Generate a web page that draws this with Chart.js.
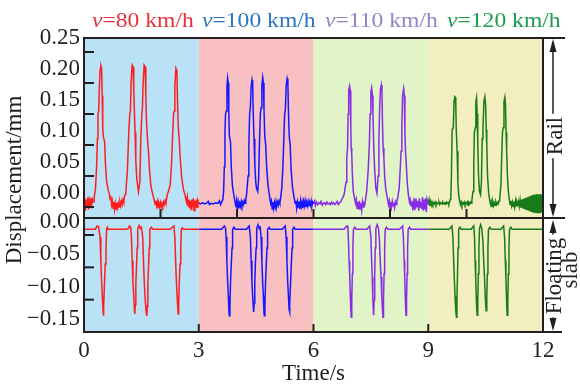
<!DOCTYPE html>
<html>
<head>
<meta charset="utf-8">
<script src="https://cdn.jsdelivr.net/npm/chart.js@4"></script>
<style>
html, body { margin: 0; padding: 0; background: #fff; }
</style>
</head>
<body>
<canvas id="myChart" width="580" height="385"></canvas>
<script>
// speeds of the four runs (one band each)
const speeds = [80, 100, 110, 120];
const bandEdges = [0, 3, 6, 9, 12];

// tick labels
const xTickValues = [0, 3, 6, 9, 12];
const railTickValues = [0, 0.05, 0.10, 0.15, 0.20, 0.25];
const slabTickValues = [0, -0.05, -0.10, -0.15];
const railInnerX = [2, 4, 6, 8, 10];
const slabInnerX = [3, 6, 9];

// rail displacement, [time s, mm]
const rail80 = [
  [0,.004],[.02,.014],[.04,-.006],[.06,.012],[.08,0],[.10,.016],[.12,-.004],[.14,.010],[.16,.002],[.18,.015],[.20,.004],[.22,.012],[.24,.008],
  [.26,.012],[.30,.030],[.33,.065],[.35,.110],[.365,.150],[.385,.155],[.40,.190],[.42,.222],[.44,.228],[.46,.224],[.475,.180],[.49,.125],[.51,.112],[.54,.105],[.56,.070],[.59,.042],[.63,.028],[.66,.022],
  [.68,.012],[.70,.018],[.72,.004],[.74,.010],[.76,-.002],[.78,.008],[.80,-.004],[.82,.006],[.84,-.003],[.86,.007],[.88,-.001],[.90,.006],[.92,0],[.94,.008],[.96,.002],[.98,.009],[1.00,.004],[1.02,.012],[1.04,.008],[1.06,.018],
  [1.09,.020],[1.135,.060],[1.17,.120],[1.197,.150],[1.214,.155],[1.231,.200],[1.258,.229],[1.284,.226],[1.301,.190],[1.319,.150],[1.336,.120],[1.354,.075],[1.38,.045],[1.424,.025],[1.459,.040],[1.485,.110],[1.511,.150],[1.528,.160],[1.546,.200],[1.572,.229],[1.598,.226],[1.616,.180],[1.633,.140],[1.659,.110],[1.686,.090],[1.712,.060],[1.747,.035],[1.79,.022],[1.834,.012],
  [1.86,.004],[1.88,.010],[1.90,.002],[1.92,.008],[1.94,-.001],[1.96,.006],[1.98,.001],[2.00,.007],[2.02,0],[2.04,.006],[2.06,.002],[2.08,.008],[2.10,.004],[2.12,.010],[2.14,.006],[2.16,.014],[2.18,.020],
  [2.22,.028],[2.253,.035],[2.288,.070],[2.314,.110],[2.341,.150],[2.358,.155],[2.376,.195],[2.402,.224],[2.428,.220],[2.445,.170],[2.463,.130],[2.489,.110],[2.515,.080],[2.55,.050],[2.594,.030],[2.646,.018],
  [2.68,.008],[2.70,.016],[2.72,.002],[2.74,.012],[2.76,-.002],[2.78,.010],[2.80,-.004],[2.82,.012],[2.84,0],[2.86,.014],[2.88,-.006],[2.90,.010],[2.92,-.002],[2.94,.012],[2.96,0],[2.98,.010],[3.00,.006]
];
const rail100 = [
  [3.00,.006],[3.05,.005],[3.10,.007],[3.15,.005],[3.20,.006],[3.25,.009],[3.28,.004],[3.32,.006],[3.38,.005],[3.44,.007],[3.50,.006],[3.54,.010],[3.57,.004],[3.60,.008],[3.63,.012],
  [3.65,.025],[3.668,.065],[3.685,.120],[3.70,.150],[3.72,.155],[3.738,.195],[3.755,.208],[3.772,.200],[3.785,.155],[3.80,.115],[3.83,.105],[3.85,.065],[3.88,.035],[3.92,.018],[3.95,.008],
  [3.97,0],[3.99,.010],[4.01,-.004],[4.03,.008],[4.05,-.002],[4.07,.006],[4.09,.001],[4.11,.009],[4.13,.003],[4.15,.008],[4.17,.004],[4.19,.010],[4.21,.006],[4.23,.012],
  [4.25,.020],[4.29,.050],[4.31,.100],[4.33,.150],[4.35,.160],[4.37,.195],[4.393,.205],[4.41,.198],[4.425,.150],[4.445,.110],[4.465,.070],[4.49,.040],[4.51,.030],[4.541,.025],[4.565,.045],[4.59,.110],[4.61,.150],[4.63,.160],[4.65,.195],[4.672,.209],[4.69,.200],[4.705,.160],[4.725,.115],[4.75,.100],[4.775,.065],[4.81,.035],[4.85,.018],[4.88,.006],
  [4.90,.010],[4.92,-.003],[4.94,.008],[4.96,-.002],[4.98,.007],[5.00,0],[5.02,.009],[5.04,.002],[5.06,.008],[5.08,.003],[5.10,.010],[5.12,.006],[5.14,.014],
  [5.17,.030],[5.20,.065],[5.225,.110],[5.245,.150],[5.265,.158],[5.285,.195],[5.31,.207],[5.33,.200],[5.345,.155],[5.365,.115],[5.39,.100],[5.415,.060],[5.45,.032],[5.49,.016],[5.52,.006],
  [5.54,.010],[5.56,-.002],[5.58,.008],[5.60,0],[5.62,.009],[5.64,-.003],[5.66,.010],[5.68,.001],[5.70,.008],[5.72,-.002],[5.74,.009],[5.76,.002],[5.78,.010],[5.80,0],[5.82,.008],[5.84,.002],[5.86,.009],[5.88,.001],[5.90,.008],[5.92,.003],[5.94,.010],[5.96,.002],[5.98,.008],[6.00,.005]
];
const rail110 = [
  [6.00,.006],[6.03,.010],[6.05,.002],[6.08,.008],[6.11,.004],[6.14,.007],[6.17,.005],[6.20,.009],[6.23,.003],[6.26,.006],[6.29,.007],[6.32,.004],[6.35,.008],[6.38,.005],[6.41,.006],[6.44,.004],[6.47,.008],[6.50,.005],[6.53,.007],[6.56,.004],[6.59,.006],[6.62,.009],[6.65,.004],[6.68,.007],[6.71,.008],[6.74,.012],
  [6.80,.020],[6.85,.040],[6.87,.080],[6.89,.095],[6.905,.150],[6.92,.188],[6.943,.195],[6.96,.188],[6.975,.130],[6.985,.095],[7.00,.085],[7.015,.055],[7.04,.025],[7.07,.015],[7.10,.006],
  [7.12,.012],[7.14,-.002],[7.16,.008],[7.18,-.004],[7.20,.010],[7.22,-.003],[7.24,.006],[7.26,-.005],[7.28,.008],[7.30,0],[7.32,.006],[7.34,.004],[7.36,.012],
  [7.39,.025],[7.43,.060],[7.46,.100],[7.48,.150],[7.50,.185],[7.52,.192],[7.54,.180],[7.555,.150],[7.575,.095],[7.60,.060],[7.63,.030],[7.659,.022],[7.69,.050],[7.71,.110],[7.73,.160],[7.75,.190],[7.773,.197],[7.79,.185],[7.805,.130],[7.82,.095],[7.84,.080],[7.86,.050],[7.89,.028],[7.93,.015],[7.96,.004],
  [7.98,.010],[8.00,-.002],[8.02,.008],[8.04,0],[8.06,.009],[8.08,.002],[8.10,.007],[8.12,-.001],[8.14,.008],[8.16,.004],[8.18,.010],[8.20,.014],
  [8.24,.030],[8.27,.065],[8.29,.090],[8.31,.130],[8.33,.180],[8.358,.191],[8.375,.180],[8.39,.120],[8.405,.090],[8.425,.070],[8.45,.040],[8.48,.020],[8.51,.008],
  [8.53,.012],[8.55,.002],[8.57,.009],[8.59,0],[8.61,.008],[8.63,-.004],[8.65,.014],[8.67,-.002],[8.69,.008],[8.71,.001],[8.73,.010],[8.75,-.006],[8.77,.014],[8.79,0],[8.81,.008],[8.83,-.003],[8.85,.016],[8.87,-.006],[8.89,.012],[8.91,-.004],[8.93,.014],[8.95,-.008],[8.97,.012],[9.00,.004]
];
const rail120 = [
  [9.00,.006],[9.02,.012],[9.04,.002],[9.06,.009],[9.08,.003],[9.10,.008],[9.12,.004],[9.14,.007],[9.16,.005],[9.18,.008],[9.20,.004],[9.22,.007],[9.24,.005],[9.26,.006],[9.28,.008],[9.30,.004],[9.32,.007],[9.34,.006],[9.36,.005],[9.38,.008],[9.40,.006],[9.42,.005],[9.44,.007],[9.46,.006],[9.48,.008],[9.50,.006],[9.52,.007],[9.54,.005],[9.56,.009],[9.58,.013],
  [9.59,.015],[9.605,.050],[9.625,.125],[9.655,.128],[9.675,.172],[9.69,.178],[9.705,.177],[9.72,.165],[9.732,.125],[9.755,.090],[9.775,.040],[9.795,.020],[9.82,.010],
  [9.84,.004],[9.86,.008],[9.88,.003],[9.90,.007],[9.92,.005],[9.94,.008],[9.96,.004],[9.98,.007],[10.00,.005],[10.02,.008],[10.04,.003],[10.06,.007],[10.08,.005],[10.10,.008],[10.12,.006],[10.14,.011],
  [10.17,.025],[10.19,.070],[10.205,.120],[10.23,.128],[10.245,.170],[10.262,.176],[10.278,.150],[10.295,.100],[10.315,.050],[10.34,.025],[10.367,.020],[10.39,.040],[10.41,.110],[10.43,.125],[10.455,.170],[10.48,.178],[10.50,.165],[10.515,.125],[10.53,.100],[10.55,.050],[10.58,.022],[10.61,.010],
  [10.63,.004],[10.65,.009],[10.67,.001],[10.69,.008],[10.71,.002],[10.73,.007],[10.75,.003],[10.77,.008],[10.79,.004],[10.81,.007],[10.83,.005],[10.85,.010],[10.87,.015],
  [10.90,.035],[10.92,.080],[10.94,.120],[10.96,.128],[10.98,.170],[11.004,.177],[11.02,.165],[11.035,.120],[11.05,.090],[11.07,.050],[11.095,.025],[11.12,.012],
  [11.14,.004],[11.16,.010],[11.18,.002],[11.20,.008],[11.22,.001],[11.24,.009],[11.26,0],[11.28,.010],[11.30,.002],[11.32,.008],[11.34,.004],[11.36,.009],[11.38,.001],[11.40,.011],[11.42,-.001],[11.44,.012],[11.46,-.002],[11.48,.013],[11.50,-.003],[11.52,.014],[11.54,-.004],[11.56,.015],[11.58,-.005],[11.60,.016],[11.62,-.006],[11.64,.017],[11.66,-.007],[11.68,.018],[11.70,-.008],[11.72,.019],[11.74,-.008],[11.76,.020],[11.78,-.009],[11.80,.020],[11.82,-.009],[11.84,.021],[11.86,-.010],[11.88,.020],[11.90,-.009],[11.92,.021],[11.94,-.010],[11.96,.020],[11.98,-.008],[12.00,.010]
];

// floating slab displacement, [time s, mm]
const slab80 = [
  [0,.009],[.30,.009],[.34,.014],[.38,.013],[.42,-.003],[.44,-.040],[.46,-.072],[.48,-.095],[.50,-.120],[.507,-.125],[.52,-.110],[.535,-.075],[.555,-.045],[.575,-.020],[.59,.009],[.61,.012],[.63,.009],
  [1.10,.009],[1.16,.010],[1.19,.014],[1.22,.012],[1.24,-.003],[1.26,-.040],[1.28,-.072],[1.30,-.095],[1.32,-.118],[1.328,-.122],[1.34,-.108],[1.355,-.075],[1.375,-.045],[1.39,-.020],[1.405,.010],[1.44,.015],[1.47,.010],[1.50,.012],
  [1.535,-.003],[1.555,-.040],[1.575,-.072],[1.595,-.095],[1.625,-.120],[1.642,-.125],[1.655,-.110],[1.67,-.075],[1.69,-.045],[1.705,-.020],[1.72,.009],[1.76,.012],[1.80,.009],
  [2.25,.009],[2.31,.012],[2.35,.014],[2.375,-.003],[2.395,-.040],[2.415,-.072],[2.435,-.095],[2.455,-.118],[2.463,-.122],[2.475,-.108],[2.49,-.075],[2.51,-.045],[2.53,-.020],[2.545,.009],[2.57,.011],[2.60,.009],[3.00,.009]
];
const slab100 = [
  [3.00,.009],[3.60,.009],[3.64,.012],[3.67,.014],[3.70,.011],[3.715,-.003],[3.735,-.040],[3.755,-.072],[3.775,-.095],[3.79,-.120],[3.80,-.125],[3.815,-.110],[3.83,-.075],[3.85,-.045],[3.87,-.020],[3.885,.009],[3.92,.012],[3.95,.009],
  [4.25,.009],[4.29,.012],[4.32,.014],[4.35,-.003],[4.37,-.040],[4.39,-.072],[4.41,-.095],[4.43,-.115],[4.437,-.119],[4.45,-.105],[4.465,-.075],[4.48,-.045],[4.50,-.020],[4.515,.010],[4.55,.016],[4.58,.010],
  [4.605,.012],[4.63,-.003],[4.65,-.040],[4.67,-.072],[4.69,-.095],[4.705,-.120],[4.716,-.125],[4.73,-.110],[4.745,-.075],[4.765,-.045],[4.785,-.020],[4.80,.009],[4.84,.012],[4.87,.009],
  [5.18,.009],[5.23,.012],[5.26,.014],[5.285,-.003],[5.305,-.040],[5.325,-.072],[5.345,-.095],[5.362,-.115],[5.371,-.119],[5.385,-.105],[5.40,-.075],[5.42,-.045],[5.44,-.020],[5.455,.009],[5.49,.012],[5.52,.009],[6.00,.009]
];
const slab110 = [
  [6.00,.009],[6.80,.009],[6.85,.013],[6.88,.014],[6.90,.010],[6.915,-.010],[6.93,-.040],[6.945,-.060],[6.96,-.090],[6.975,-.115],[6.987,-.127],[7.00,-.100],[7.015,-.060],[7.03,-.020],[7.045,.009],[7.08,.012],[7.11,.009],
  [7.40,.009],[7.44,.012],[7.47,.014],[7.50,-.003],[7.52,-.040],[7.535,-.065],[7.55,-.095],[7.565,-.118],[7.572,-.124],[7.585,-.100],[7.60,-.060],[7.615,-.020],[7.63,.010],[7.665,.016],[7.70,.010],
  [7.725,-.010],[7.745,-.040],[7.765,-.065],[7.785,-.095],[7.805,-.118],[7.817,-.127],[7.83,-.100],[7.845,-.060],[7.86,-.020],[7.875,.009],[7.91,.012],[7.94,.009],
  [8.25,.009],[8.30,.012],[8.33,.014],[8.35,-.003],[8.37,-.040],[8.385,-.065],[8.40,-.095],[8.412,-.118],[8.419,-.124],[8.432,-.100],[8.447,-.060],[8.46,-.020],[8.475,.009],[8.51,.012],[8.54,.009],[9.00,.009]
];
const slab120 = [
  [9.00,.009],[9.55,.009],[9.59,.012],[9.62,.014],[9.645,-.003],[9.665,-.040],[9.68,-.065],[9.70,-.095],[9.72,-.118],[9.738,-.127],[9.75,-.100],[9.765,-.060],[9.78,-.020],[9.795,.009],[9.83,.012],[9.86,.009],
  [10.12,.009],[10.16,.012],[10.19,.014],[10.21,-.003],[10.225,-.040],[10.24,-.065],[10.255,-.095],[10.27,-.118],[10.28,-.124],[10.295,-.100],[10.31,-.060],[10.325,-.020],[10.34,.010],[10.37,.016],[10.40,.010],
  [10.43,-.010],[10.45,-.040],[10.47,-.065],[10.49,-.095],[10.505,-.110],[10.515,-.117],[10.53,-.095],[10.545,-.060],[10.56,-.020],[10.575,.009],[10.61,.012],[10.64,.009],
  [10.90,.009],[10.94,.012],[10.97,.014],[10.995,-.003],[11.015,-.040],[11.03,-.065],[11.045,-.095],[11.058,-.118],[11.065,-.124],[11.08,-.100],[11.095,-.060],[11.11,-.020],[11.125,.009],[11.16,.012],[11.19,.009],[12.00,.009]
];

const railSeries = [rail80, rail100, rail110, rail120];
const slabSeries = [slab80, slab100, slab110, slab120];

// styles
const lineColors = ['#ff1e1e', '#1616ff', '#8a2be6', '#177c17'];
const titleColors = ['#e8323a', '#2b76c2', '#8c87c6', '#1c9c4c'];
const bandColors = ['#b9e2f7', '#f8c0c1', '#e1f4c7', '#f3eec0'];
const ink = '#231f20';
const serif = "'Liberation Serif', 'Times New Roman', serif";
const axisFont = { family: serif, size: 23, lineHeight: 1 };
const titleLeft = [92, 202, 325, 447];

let datasets = [];
railSeries.forEach(function(s, i) {
  datasets.push({
    data: s.map(p => ({ x: p[0], y: p[1] })),
    yAxisID: 'y', borderColor: lineColors[i], borderWidth: 1.5,
    pointRadius: 0, tension: 0, fill: false
  });
});
slabSeries.forEach(function(s, i) {
  datasets.push({
    data: s.map(p => ({ x: p[0], y: p[1] })),
    yAxisID: 'y2', borderColor: lineColors[i], borderWidth: 1.5,
    pointRadius: 0, tension: 0, fill: false
  });
});

function line(ctx, x0, y0, x1, y1) {
  ctx.beginPath(); ctx.moveTo(x0, y0); ctx.lineTo(x1, y1); ctx.stroke();
}
function arrow(ctx, x, tip, dir) {
  ctx.beginPath();
  ctx.moveTo(x, tip);
  ctx.lineTo(x - 3.5, tip + dir * 13);
  ctx.lineTo(x + 3.5, tip + dir * 13);
  ctx.closePath(); ctx.fill();
}
function sideLabel(ctx, text, x, y) {
  ctx.save();
  ctx.translate(x, y); ctx.rotate(-Math.PI / 2);
  const w = ctx.measureText(text).width;
  ctx.fillStyle = '#fff';
  ctx.fillRect(-w / 2 - 3, -9, w + 6, 18);
  ctx.fillStyle = ink;
  ctx.fillText(text, 0, 0);
  ctx.restore();
}

const decor = {
  id: 'decor',
  beforeDatasetsDraw(chart) {
    const { ctx, chartArea: a } = chart;
    const x = chart.scales.x;
    ctx.save();
    for (let i = 0; i < bandColors.length; i++) {
      const x0 = x.getPixelForValue(bandEdges[i]);
      const x1 = x.getPixelForValue(bandEdges[i + 1]);
      ctx.fillStyle = bandColors[i];
      ctx.fillRect(x0, a.top, x1 - x0, a.bottom - a.top);
    }
    ctx.restore();
  },
  afterDraw(chart) {
    const { ctx, chartArea: a } = chart;
    const x = chart.scales.x, yR = chart.scales.y, yS = chart.scales.y2;
    const mid = yR.bottom;
    ctx.save();
    ctx.strokeStyle = ink; ctx.fillStyle = ink; ctx.lineWidth = 2;
    // frame + divider
    ctx.strokeRect(a.left, a.top, a.right - a.left, a.bottom - a.top);
    line(ctx, a.left, mid, 565, mid);
    line(ctx, a.right, a.top, 565, a.top);
    line(ctx, a.right, a.bottom, 562, a.bottom);
    // inward ticks
    railTickValues.forEach(v => { const p = yR.getPixelForValue(v); line(ctx, a.left, p, a.left + 10, p); });
    slabTickValues.forEach(v => { const p = yS.getPixelForValue(v); line(ctx, a.left, p, a.left + 10, p); });
    railInnerX.forEach(v => { const p = x.getPixelForValue(v); line(ctx, p, mid, p, mid - 9); });
    slabInnerX.forEach(v => { const p = x.getPixelForValue(v); line(ctx, p, a.bottom, p, a.bottom - 8); });
    // right side brackets
    const bx = 553;
    ctx.lineWidth = 1.5;
    line(ctx, bx, a.top + 10, bx, mid - 10);
    arrow(ctx, bx, a.top + 1, 1);
    arrow(ctx, bx, mid - 1, -1);
    line(ctx, bx, mid + 10, bx, a.bottom - 10);
    arrow(ctx, bx, mid + 2, 1);
    arrow(ctx, bx, a.bottom - 1, -1);
    ctx.font = '23px ' + serif;
    ctx.textAlign = 'center'; ctx.textBaseline = 'middle';
    sideLabel(ctx, 'Rail', 556, 136);
    sideLabel(ctx, 'Floating', 555, 276);
    ctx.save();
    ctx.translate(571, 270); ctx.rotate(-Math.PI / 2);
    ctx.fillText('slab', 0, 0);
    ctx.restore();
    // y title
    ctx.save();
    ctx.translate(15, 180); ctx.rotate(-Math.PI / 2);
    ctx.fillText('Displacement/mm', 0, 0);
    ctx.restore();
    // speed labels
    ctx.textAlign = 'left'; ctx.textBaseline = 'alphabetic';
    speeds.forEach(function(sp, i) {
      ctx.save();
      ctx.translate(titleLeft[i], 27);
      ctx.scale(1.18, 1);
      ctx.fillStyle = titleColors[i];
      ctx.font = 'italic 20px ' + serif;
      ctx.fillText('v', 0, 0);
      const w = ctx.measureText('v').width;
      ctx.font = '20px ' + serif;
      ctx.fillText('=' + sp + ' km/h', w, 0);
      ctx.restore();
    });
    ctx.restore();
  }
};

const yCommon = {
  type: 'linear', position: 'left', stack: 'panels',
  grid: { display: false, drawTicks: false }, border: { display: false },
  afterFit: s => { s.width = 84; }
};

var myChart = new Chart(document.getElementById('myChart').getContext('2d'), {
  type: 'line',
  data: { datasets: datasets },
  options: {
    responsive: false,
    animation: false,
    events: [],
    layout: { padding: { top: 38, right: 37, bottom: 0, left: 0 } },
    plugins: { legend: { display: false }, tooltip: { enabled: false } },
    scales: {
      x: {
        type: 'linear', min: 0, max: 12,
        afterBuildTicks: s => { s.ticks = xTickValues.map(v => ({ value: v })); },
        afterFit: s => { s.height = 53; },
        grid: { display: false, drawTicks: false }, border: { display: false },
        ticks: { font: axisFont, color: ink, padding: 7, maxRotation: 0, autoSkip: false },
        title: { display: true, text: 'Time/s', font: axisFont, color: ink, padding: 0 }
      },
      y: Object.assign({}, yCommon, {
        stackWeight: 180, weight: 2, min: -0.0177, max: 0.2726,
        afterBuildTicks: s => { s.ticks = railTickValues.map(v => ({ value: v })); },
        ticks: { font: axisFont, color: ink, padding: 4, labelOffset: -14, autoSkip: false,
          callback: v => v.toFixed(2) }
      }),
      y2: Object.assign({}, yCommon, {
        stackWeight: 114, weight: 1, min: -0.15, max: 0.0263,
        afterBuildTicks: s => { s.ticks = slabTickValues.map(v => ({ value: v })); },
        ticks: { font: axisFont, color: ink, padding: 4, labelOffset: -13, autoSkip: false,
          callback: v => (v < -1e-9 ? '\u2212' : '') + Math.abs(v).toFixed(2) }
      })
    }
  },
  plugins: [decor]
});
</script>
</body>
</html>
